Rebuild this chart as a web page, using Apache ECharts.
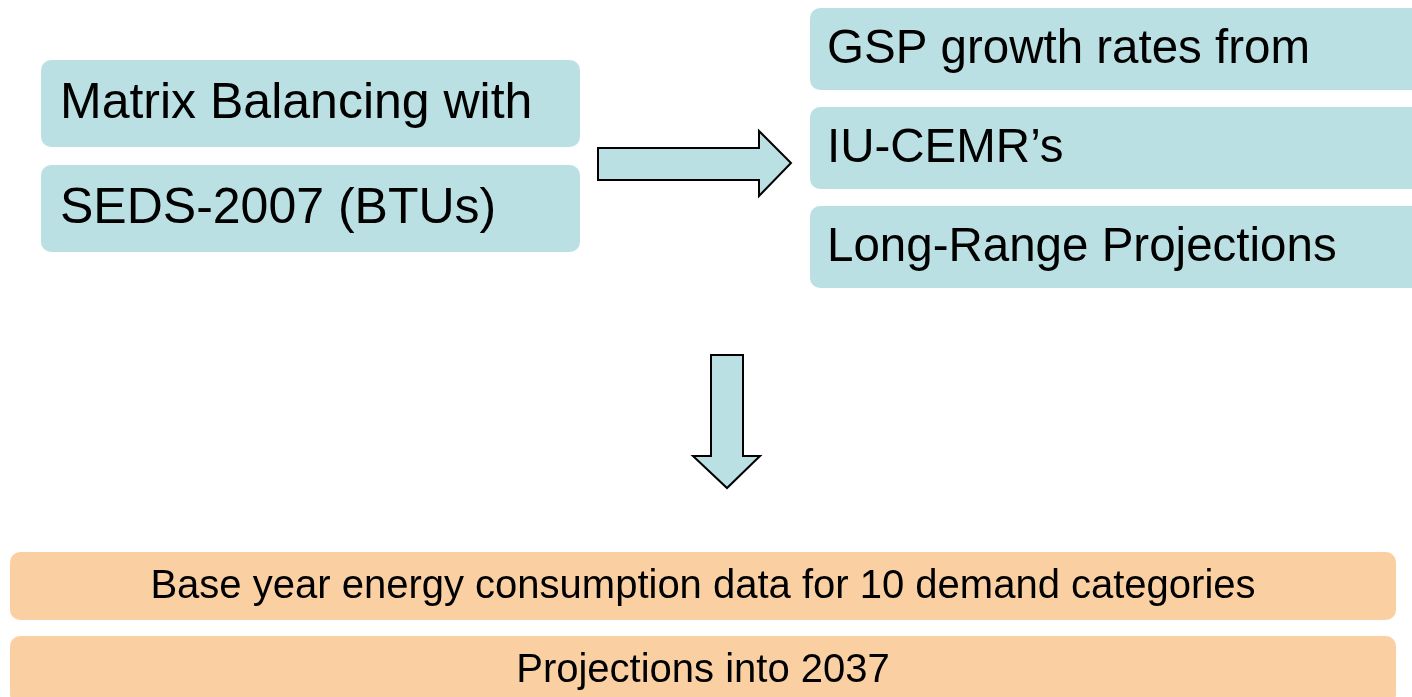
<!DOCTYPE html>
<html><head><meta charset="utf-8">
<script src="https://cdn.jsdelivr.net/npm/echarts@6/dist/echarts.min.js"></script>
<style>html,body{margin:0;padding:0;background:#fff}#c{width:1412px;height:697px}</style>
</head><body><div id="c"></div>
<script>
const leftLabels = ["Matrix Balancing with", "SEDS-2007 (BTUs)"];
const rightLabels = ["GSP growth rates from", "IU-CEMR\u2019s", "Long-Range Projections"];
const bottomLabels = ["Base year energy consumption data for 10 demand categories", "Projections into 2037"];

const TEAL = "#BBE0E3", ORANGE = "#FAD0A3";
const FONT = "'Liberation Sans', Arial, sans-serif";
const g = [];
function box(x, y, w, h, fill, text, size, align, pad) {
  g.push({type: 'rect', shape: {x, y, width: w, height: h, r: 10}, style: {fill}});
  g.push({type: 'text', x: align === 'center' ? x + w / 2 : x + pad, y: y + h / 2 + 1,
    style: {text, fill: '#000', font: size + 'px ' + FONT, align: align || 'left', verticalAlign: 'middle'}});
}
const leftY = [60, 165];
leftLabels.forEach((t, i) => box(41, leftY[i], 539, 87, TEAL, t, 50, 'left', 19));
const rightY = [8, 107, 206];
rightLabels.forEach((t, i) => box(810, rightY[i], 640, 82, TEAL, t, 47.5, 'left', 17));
const botY = [552, 636];
bottomLabels.forEach((t, i) => box(10, botY[i], 1386, 68, ORANGE, t, 40, 'center'));

g.push({type: 'polygon', shape: {points: [[598,148],[759,148],[759,131],[791,163],[759,196],[759,180],[598,180]]},
  style: {fill: TEAL, stroke: '#000', lineWidth: 2}});
g.push({type: 'polygon', shape: {points: [[711,355],[743,355],[743,456],[760,456],[727,488],[693,456],[711,456]]},
  style: {fill: TEAL, stroke: '#000', lineWidth: 2}});

const chart = echarts.init(document.getElementById('c'), null, {renderer: 'canvas'});
chart.setOption({animation: false, graphic: {elements: g}});
</script></body></html>
